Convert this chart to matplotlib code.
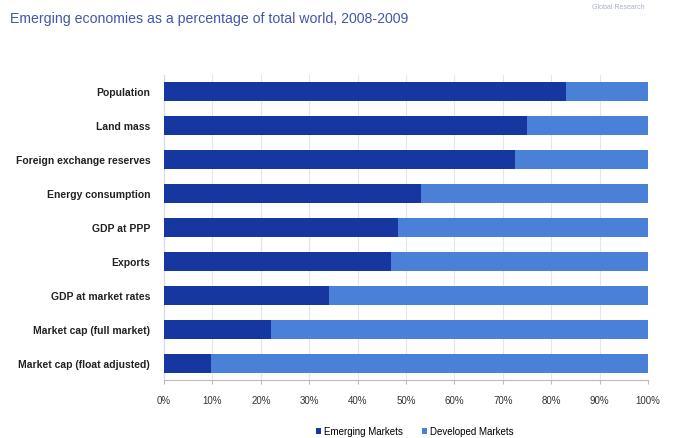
import numpy as np
import matplotlib.pyplot as plt

categories = ['Population', 'Land mass', 'Foreign exchange reserves', 'Energy consumption',
              'GDP at PPP', 'Exports', 'GDP at market rates', 'Market cap (full market)',
              'Market cap (float adjusted)']
emerging = [83, 75, 72.5, 53, 48.4, 47, 34, 22.2, 9.7]
developed = [100 - v for v in emerging]
xticks = np.arange(0, 101, 10)

dark = '#1737a0'
light = '#4a80d8'
fonts = ['Liberation Sans', 'DejaVu Sans']

fig = plt.figure(figsize=(6.75, 4.39), dpi=100)
ax = fig.add_axes([0.243, 0.132, 0.717, 0.696])

y = np.arange(len(categories))
ax.barh(y, emerging, height=0.56, color=dark, label='Emerging Markets', zorder=3)
ax.barh(y, developed, left=emerging, height=0.56, color=light, label='Developed Markets', zorder=3)

ax.set_ylim(len(categories) - 0.5, -0.5)
ax.set_xlim(0, 100)
ax.set_yticks(y)
ax.set_yticklabels(categories, family=fonts, fontsize=7.5, fontweight='bold', color='#222222')
ax.set_xticks(xticks)
ax.set_xticklabels([f'{v}%' for v in xticks], family=fonts, fontsize=7, color='#333333')
ax.tick_params(axis='y', length=0, pad=10)
ax.tick_params(axis='x', length=3, color='#bbbbbb', pad=8)
ax.grid(axis='x', color='#e6e6e6', linewidth=0.8, zorder=0)

for s in ['top', 'right']:
    ax.spines[s].set_visible(False)
ax.spines['left'].set_color('#d8d8e8')
ax.spines['bottom'].set_color('#bbbbbb')

fig.text(0.015, 0.957, 'Emerging economies as a percentage of total world, 2008-2009',
         family=fonts, fontsize=10.2, color='#4257a8', va='center')
fig.text(0.955, 0.982, 'Global Research', family=fonts, fontsize=5, color='#a8b0d0',
         ha='right', va='center')

fig.legend(loc='center', bbox_to_anchor=(0.615, 0.015), ncol=2, frameon=False,
           prop={'family': fonts, 'size': 7}, handlelength=0.5, handleheight=0.6,
           handletextpad=0.3, columnspacing=2.0)

fig.savefig('out.png', dpi=100)
